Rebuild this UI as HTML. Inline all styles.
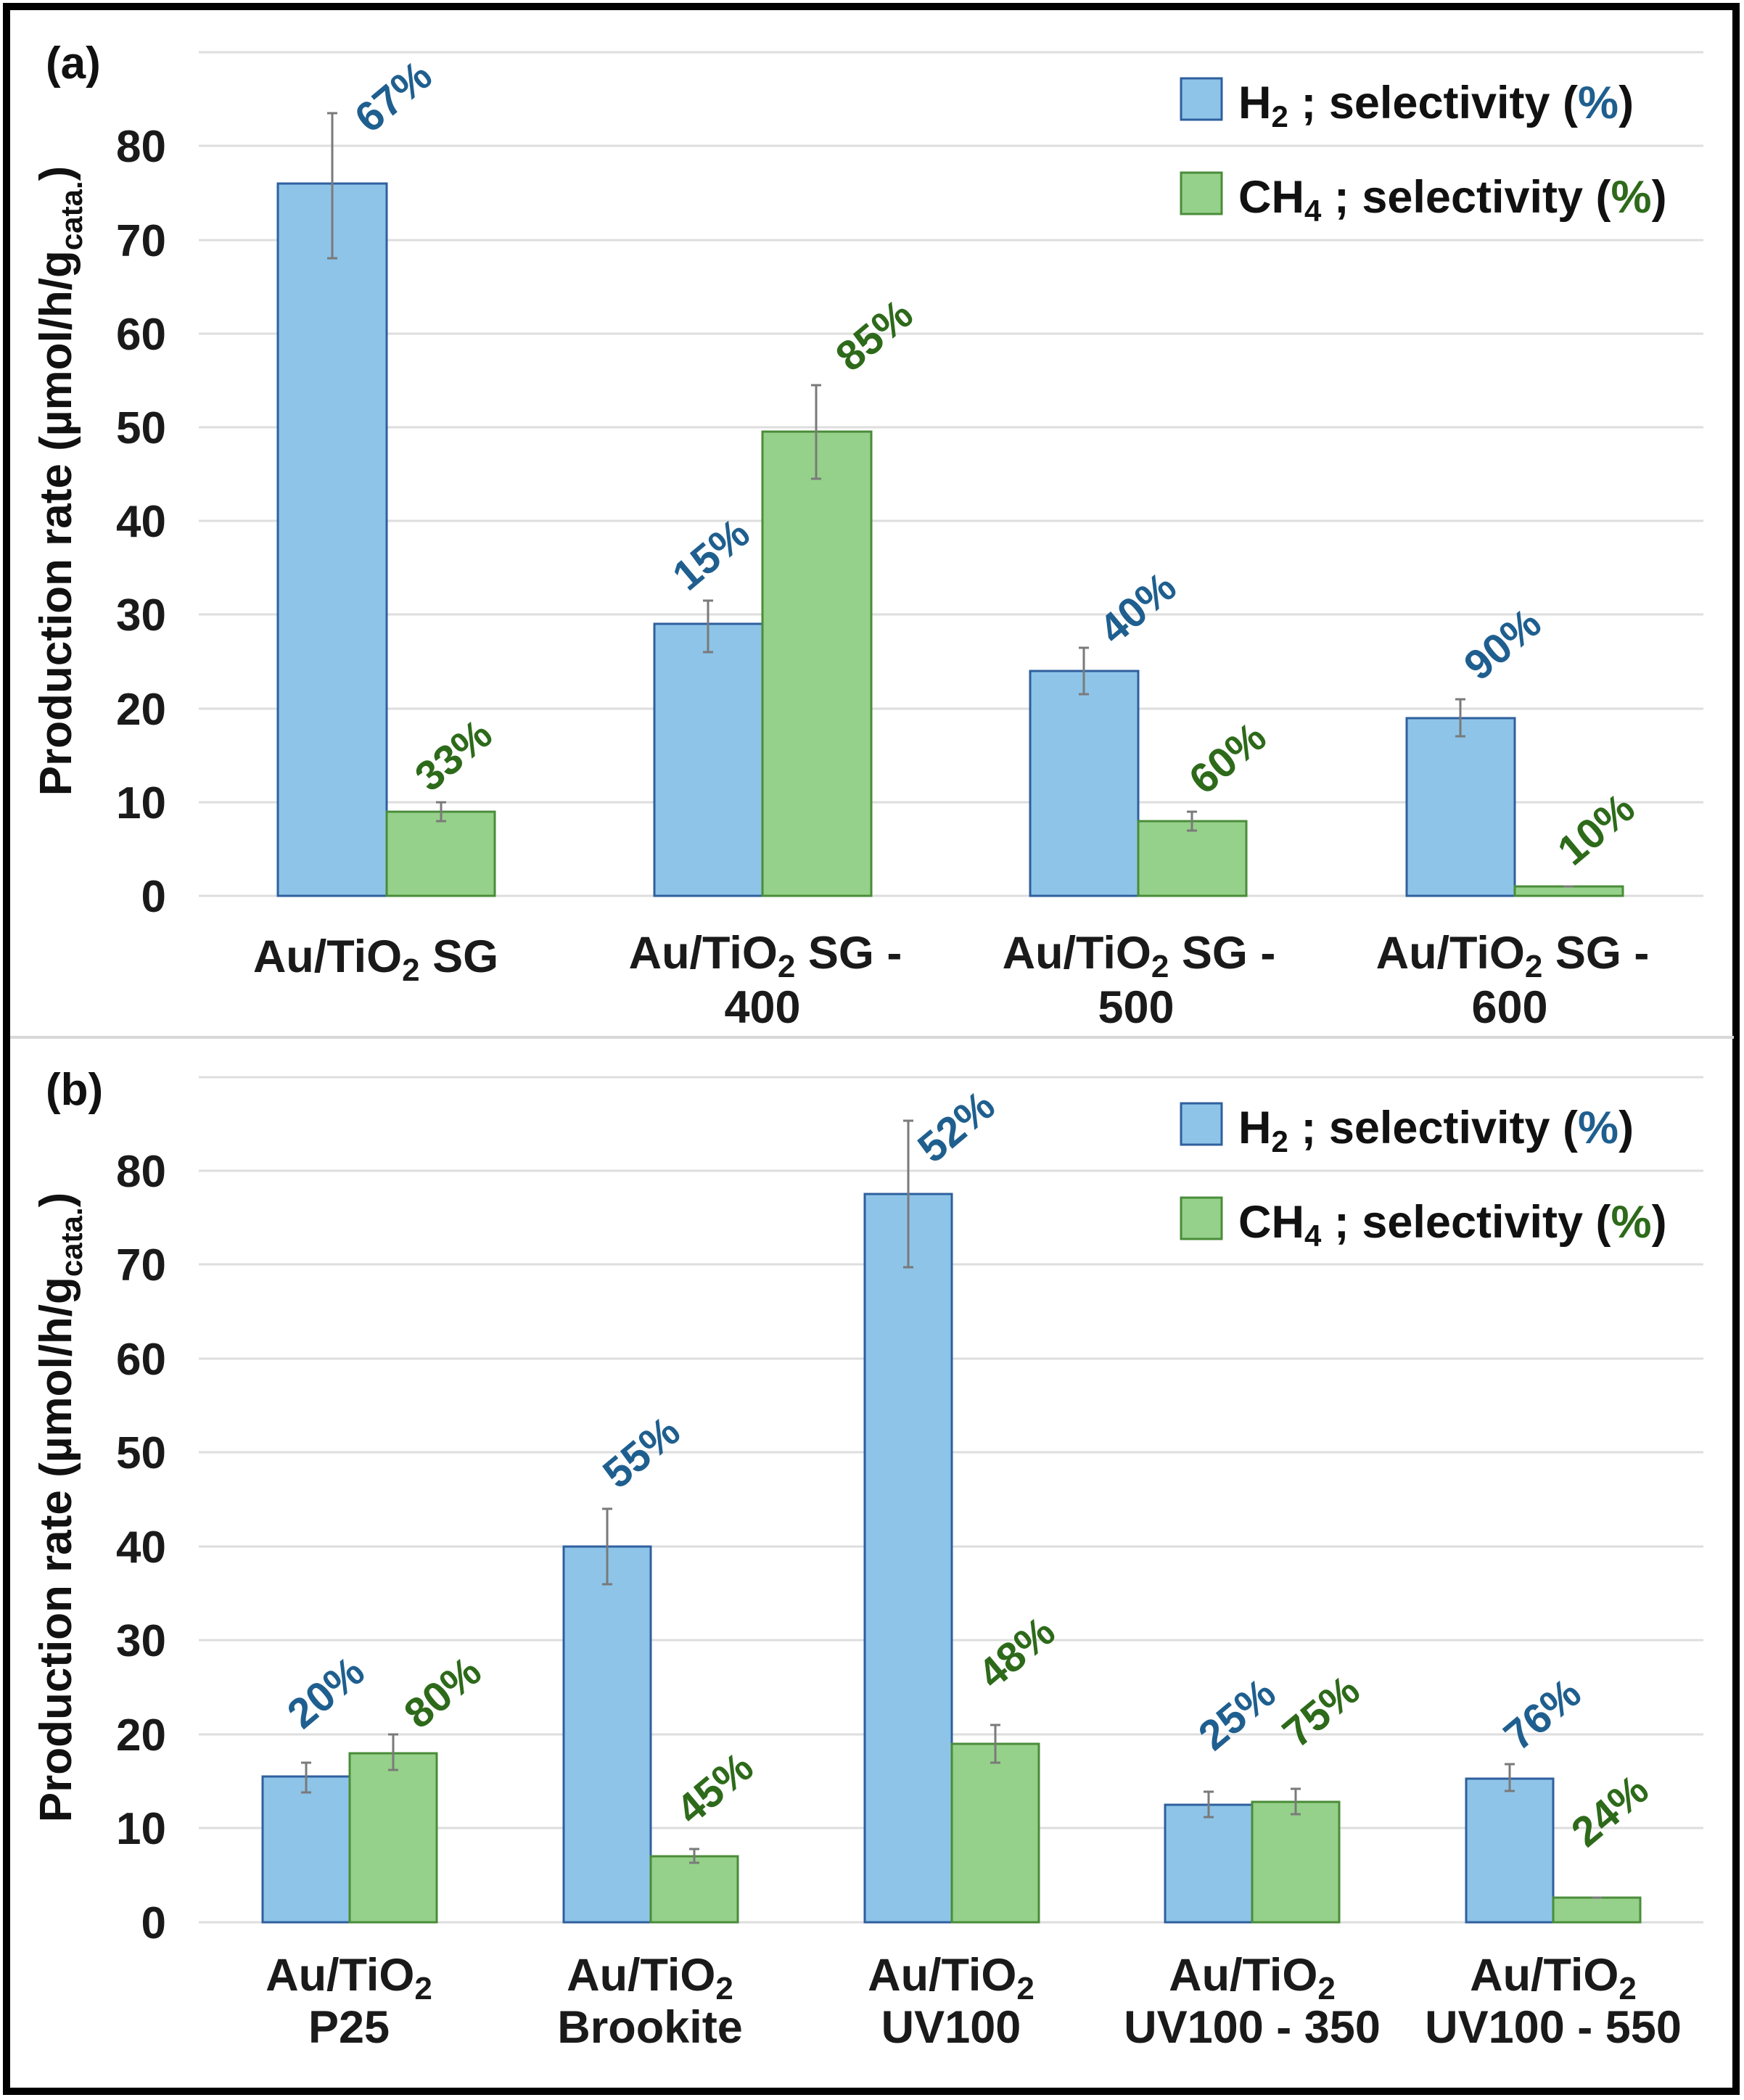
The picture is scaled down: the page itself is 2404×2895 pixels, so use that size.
<!DOCTYPE html>
<html><head><meta charset="utf-8"><style>
html,body{margin:0;padding:0;background:#fff;}
svg{display:block;}
text{font-family:"Liberation Sans",Arial,sans-serif;font-weight:bold;}
.t{font-size:62px;fill:#1a1a1a;}
.c{font-size:63px;fill:#1a1a1a;text-anchor:middle;}
.lg{font-size:63px;fill:#111;}
.pb{font-size:58px;fill:#1f5f8f;}
.pg{font-size:58px;fill:#2d6a1a;}
.g{stroke:#dedede;stroke-width:3;}
.hb{fill:#8ec4e8;stroke:#2f5f9e;stroke-width:3;}
.cb{fill:#95d18a;stroke:#4a8c3a;stroke-width:3;}
.e{stroke:#7a7a7a;stroke-width:3;fill:none;}
</style></head><body>
<svg width="2404" height="2895" viewBox="0 0 2404 2895" xmlns="http://www.w3.org/2000/svg">
<rect x="0" y="0" width="2404" height="2895" fill="#fff"/>
<rect x="9" y="9" width="2384" height="2874" fill="none" stroke="#000" stroke-width="10"/>
<line x1="14" y1="1430" x2="2390" y2="1430" stroke="#d8d8d8" stroke-width="4"/>

<!-- Panel A -->
<text x="63" y="108" style="font-size:62px;fill:#111">(a)</text>
<g>
<line class="g" x1="274" x2="2348" y1="1235" y2="1235"/>
<line class="g" x1="274" x2="2348" y1="1106" y2="1106"/>
<line class="g" x1="274" x2="2348" y1="977" y2="977"/>
<line class="g" x1="274" x2="2348" y1="847" y2="847"/>
<line class="g" x1="274" x2="2348" y1="718" y2="718"/>
<line class="g" x1="274" x2="2348" y1="589" y2="589"/>
<line class="g" x1="274" x2="2348" y1="460" y2="460"/>
<line class="g" x1="274" x2="2348" y1="331" y2="331"/>
<line class="g" x1="274" x2="2348" y1="201" y2="201"/>
<line class="g" x1="274" x2="2348" y1="72" y2="72"/>
</g>
<g text-anchor="end">
<text class="t" x="229" y="1257">0</text>
<text class="t" x="229" y="1128">10</text>
<text class="t" x="229" y="999">20</text>
<text class="t" x="229" y="869">30</text>
<text class="t" x="229" y="740">40</text>
<text class="t" x="229" y="611">50</text>
<text class="t" x="229" y="482">60</text>
<text class="t" x="229" y="353">70</text>
<text class="t" x="229" y="223">80</text>
</g>
<text transform="translate(98,663) rotate(-90)" text-anchor="middle" style="font-size:62px;fill:#111">Production rate (µmol/h/g<tspan dy="15" style="font-size:42px">cata.</tspan><tspan dy="-15">)</tspan></text>

<rect class="hb" x="383" y="253" width="150" height="982"/>
<rect class="cb" x="533" y="1119" width="149" height="116"/>
<rect class="hb" x="902" y="860" width="149" height="375"/>
<rect class="cb" x="1051" y="595" width="150" height="640"/>
<rect class="hb" x="1420" y="925" width="149" height="310"/>
<rect class="cb" x="1569" y="1132" width="149" height="103"/>
<rect class="hb" x="1939" y="990" width="149" height="245"/>
<rect class="cb" x="2088" y="1222" width="149" height="13"/>

<path class="e" d="M458 356V156M451 356h14M451 156h14 M608 1132V1106M601 1132h14M601 1106h14 M976 899V828M969 899h14M969 828h14 M1125 660V531M1118 660h14M1118 531h14 M1494 957V893M1487 957h14M1487 893h14 M1643 1145V1119M1636 1145h14M1636 1119h14 M2013 1015V964M2006 1015h14M2006 964h14 M2155 1222h14"/>

<text class="pb" transform="translate(542,133) rotate(-40)" text-anchor="middle" dy="20">67%</text>
<text class="pg" transform="translate(625,1041) rotate(-40)" text-anchor="middle" dy="20">33%</text>
<text class="pb" transform="translate(980,764) rotate(-40)" text-anchor="middle" dy="20">15%</text>
<text class="pg" transform="translate(1205,462) rotate(-40)" text-anchor="middle" dy="20">85%</text>
<text class="pb" transform="translate(1568,838) rotate(-40)" text-anchor="middle" dy="20">40%</text>
<text class="pg" transform="translate(1692,1045) rotate(-40)" text-anchor="middle" dy="20">60%</text>
<text class="pb" transform="translate(2071,888) rotate(-40)" text-anchor="middle" dy="20">90%</text>
<text class="pg" transform="translate(2200,1143) rotate(-40)" text-anchor="middle" dy="20">10%</text>

<rect class="hb" x="1628" y="108" width="56" height="57"/>
<text class="lg" x="1707" y="163">H<tspan dy="12" style="font-size:42px">2</tspan><tspan dy="-12"> ; selectivity (</tspan><tspan fill="#1f5f8f">%</tspan>)</text>
<rect class="cb" x="1628" y="238" width="56" height="57"/>
<text class="lg" x="1707" y="293">CH<tspan dy="12" style="font-size:42px">4</tspan><tspan dy="-12"> ; selectivity (</tspan><tspan fill="#2d6a1a">%</tspan>)</text>

<text class="c" x="518" y="1340">Au/TiO<tspan dy="12" style="font-size:44px">2</tspan><tspan dy="-12"> SG</tspan></text>
<text class="c" x="1055" y="1335">Au/TiO<tspan dy="12" style="font-size:44px">2</tspan><tspan dy="-12"> SG -</tspan></text>
<text class="c" x="1051" y="1410">400</text>
<text class="c" x="1570" y="1335">Au/TiO<tspan dy="12" style="font-size:44px">2</tspan><tspan dy="-12"> SG -</tspan></text>
<text class="c" x="1566" y="1410">500</text>
<text class="c" x="2085" y="1335">Au/TiO<tspan dy="12" style="font-size:44px">2</tspan><tspan dy="-12"> SG -</tspan></text>
<text class="c" x="2081" y="1410">600</text>

<!-- Panel B -->
<text x="63" y="1523" style="font-size:62px;fill:#111">(b)</text>
<g>
<line class="g" x1="274" x2="2348" y1="2650" y2="2650"/>
<line class="g" x1="274" x2="2348" y1="2520" y2="2520"/>
<line class="g" x1="274" x2="2348" y1="2391" y2="2391"/>
<line class="g" x1="274" x2="2348" y1="2261" y2="2261"/>
<line class="g" x1="274" x2="2348" y1="2132" y2="2132"/>
<line class="g" x1="274" x2="2348" y1="2002" y2="2002"/>
<line class="g" x1="274" x2="2348" y1="1873" y2="1873"/>
<line class="g" x1="274" x2="2348" y1="1743" y2="1743"/>
<line class="g" x1="274" x2="2348" y1="1614" y2="1614"/>
<line class="g" x1="274" x2="2348" y1="1485" y2="1485"/>
</g>
<g text-anchor="end">
<text class="t" x="229" y="2672">0</text>
<text class="t" x="229" y="2542">10</text>
<text class="t" x="229" y="2413">20</text>
<text class="t" x="229" y="2283">30</text>
<text class="t" x="229" y="2154">40</text>
<text class="t" x="229" y="2024">50</text>
<text class="t" x="229" y="1895">60</text>
<text class="t" x="229" y="1765">70</text>
<text class="t" x="229" y="1636">80</text>
</g>
<text transform="translate(98,2078) rotate(-90)" text-anchor="middle" style="font-size:62px;fill:#111">Production rate (µmol/h/g<tspan dy="15" style="font-size:42px">cata.</tspan><tspan dy="-15">)</tspan></text>

<rect class="hb" x="362" y="2449" width="120" height="201"/>
<rect class="cb" x="482" y="2417" width="120" height="233"/>
<rect class="hb" x="777" y="2132" width="120" height="518"/>
<rect class="cb" x="897" y="2559" width="120" height="91"/>
<rect class="hb" x="1192" y="1646" width="120" height="1004"/>
<rect class="cb" x="1312" y="2404" width="120" height="246"/>
<rect class="hb" x="1606" y="2488" width="120" height="162"/>
<rect class="cb" x="1726" y="2484" width="120" height="166"/>
<rect class="hb" x="2021" y="2452" width="120" height="198"/>
<rect class="cb" x="2141" y="2616" width="120" height="34"/>

<path class="e" d="M422 2471V2430M415 2471h14M415 2430h14 M542 2440V2391M535 2440h14M535 2391h14 M837 2184V2080M830 2184h14M830 2080h14 M957 2568V2549M950 2568h14M950 2549h14 M1252 1747V1545M1245 1747h14M1245 1545h14 M1372 2430V2378M1365 2430h14M1365 2378h14 M1666 2505V2470M1659 2505h14M1659 2470h14 M1786 2501V2466M1779 2501h14M1779 2466h14 M2081 2469V2432M2074 2469h14M2074 2432h14 M2194 2616h14"/>

<text class="pb" transform="translate(449,2333) rotate(-40)" text-anchor="middle" dy="20">20%</text>
<text class="pg" transform="translate(610,2333) rotate(-40)" text-anchor="middle" dy="20">80%</text>
<text class="pb" transform="translate(884,2002) rotate(-40)" text-anchor="middle" dy="20">55%</text>
<text class="pg" transform="translate(985,2465) rotate(-40)" text-anchor="middle" dy="20">45%</text>
<text class="pb" transform="translate(1318,1553) rotate(-40)" text-anchor="middle" dy="20">52%</text>
<text class="pg" transform="translate(1401,2278) rotate(-40)" text-anchor="middle" dy="20">48%</text>
<text class="pb" transform="translate(1705,2363) rotate(-40)" text-anchor="middle" dy="20">25%</text>
<text class="pg" transform="translate(1821,2359) rotate(-40)" text-anchor="middle" dy="20">75%</text>
<text class="pb" transform="translate(2126,2363) rotate(-40)" text-anchor="middle" dy="20">76%</text>
<text class="pg" transform="translate(2219,2496) rotate(-40)" text-anchor="middle" dy="20">24%</text>

<rect class="hb" x="1628" y="1521" width="56" height="57"/>
<text class="lg" x="1707" y="1576">H<tspan dy="12" style="font-size:42px">2</tspan><tspan dy="-12"> ; selectivity (</tspan><tspan fill="#1f5f8f">%</tspan>)</text>
<rect class="cb" x="1628" y="1651" width="56" height="57"/>
<text class="lg" x="1707" y="1706">CH<tspan dy="12" style="font-size:42px">4</tspan><tspan dy="-12"> ; selectivity (</tspan><tspan fill="#2d6a1a">%</tspan>)</text>

<text class="c" x="481" y="2744">Au/TiO<tspan dy="12" style="font-size:44px">2</tspan></text>
<text class="c" x="481" y="2816">P25</text>
<text class="c" x="896" y="2744">Au/TiO<tspan dy="12" style="font-size:44px">2</tspan></text>
<text class="c" x="896" y="2816">Brookite</text>
<text class="c" x="1311" y="2744">Au/TiO<tspan dy="12" style="font-size:44px">2</tspan></text>
<text class="c" x="1311" y="2816">UV100</text>
<text class="c" x="1726" y="2744">Au/TiO<tspan dy="12" style="font-size:44px">2</tspan></text>
<text class="c" x="1726" y="2816">UV100 - 350</text>
<text class="c" x="2141" y="2744">Au/TiO<tspan dy="12" style="font-size:44px">2</tspan></text>
<text class="c" x="2141" y="2816">UV100 - 550</text>
</svg>
</body></html>
